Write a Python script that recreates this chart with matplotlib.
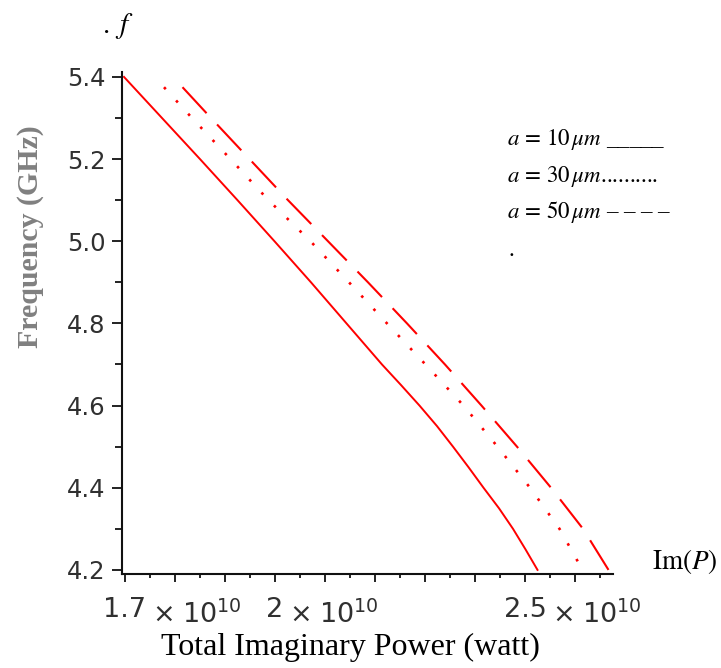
import matplotlib
matplotlib.use("Agg")
import matplotlib.pyplot as plt

plt.rcParams['mathtext.fontset'] = 'stix'
plt.rcParams['font.family'] = ['Liberation Serif', 'DejaVu Serif']

# Total imaginary power in units of 1e10 W versus resonance frequency (GHz)
freq_a10 = [5.40, 5.30, 5.20, 5.10, 5.00, 4.90, 4.80, 4.70, 4.65, 4.60, 4.55, 4.50,
            4.45, 4.40, 4.35, 4.30, 4.25, 4.20]
power_a10 = [1.698, 1.774, 1.850, 1.925, 1.999, 2.072, 2.143, 2.214, 2.252, 2.289,
             2.324, 2.356, 2.387, 2.417, 2.448, 2.476, 2.501, 2.525]

freq_a30 = [5.375, 5.30, 5.20, 5.10, 5.00, 4.90, 4.80, 4.70, 4.60, 4.50, 4.40, 4.30, 4.20]
power_a30 = [1.778, 1.834, 1.911, 1.987, 2.071, 2.148, 2.224, 2.301, 2.377, 2.445, 2.510,
             2.569, 2.615]

freq_a50 = [5.375, 5.30, 5.20, 5.10, 5.00, 4.90, 4.80, 4.70, 4.60, 4.50, 4.40, 4.30, 4.20]
power_a50 = [1.815, 1.872, 1.949, 2.026, 2.106, 2.186, 2.264, 2.340, 2.413, 2.484, 2.552,
             2.616, 2.667]

y_major = [4.2, 4.4, 4.6, 4.8, 5.0, 5.2, 5.4]
y_minor = [4.3, 4.5, 4.7, 4.9, 5.1, 5.3]
x_major = [1.7, 1.8, 1.9, 2.0, 2.1, 2.2, 2.3, 2.4, 2.5, 2.6]
x_minor = [1.75, 1.85, 1.95, 2.05, 2.15, 2.25, 2.35, 2.45, 2.55, 2.65]
x_labelled = [1.7, 2.0, 2.5]
x_mantissa = ["1.7", "2", "2.5"]

W, H = 721, 668
fig = plt.figure(figsize=(W / 100, H / 100), dpi=100)
ax = fig.add_axes([122 / W, (H - 574) / H, 491 / W, 502 / H])

red = '#ff0000'
ax.plot(power_a10, freq_a10, color=red, lw=1.4, solid_joinstyle='round')
ax.plot(power_a30, freq_a30, color=red, lw=1.9, linestyle=(0, (1.0, 5.8)))
ax.plot(power_a50, freq_a50, color=red, lw=1.5, linestyle=(0, (17.0, 7.4)))

ax.set_xlim(1.694, 2.676)
ax.set_ylim(4.19, 5.412)

for s in ('top', 'right'):
    ax.spines[s].set_visible(False)
for s in ('left', 'bottom'):
    ax.spines[s].set_linewidth(1.5)
    ax.spines[s].set_color('#111111')

ax.set_yticks(y_major)
ax.set_yticklabels([f"{v:.1f}" for v in y_major], fontfamily='DejaVu Sans',
                   fontsize=17.5, color='#303030')
ax.set_yticks(y_minor, minor=True)
ax.set_xticks(x_major)
ax.set_xticklabels([])
ax.set_xticks(x_minor, minor=True)
ax.tick_params(axis='y', which='major', length=7, width=1.3, pad=5, color='#111111')
ax.tick_params(axis='y', which='minor', length=5, width=1.3, color='#111111')
ax.tick_params(axis='x', which='major', length=6, width=1.3, color='#111111')
ax.tick_params(axis='x', which='minor', length=3, width=1.3, color='#111111')

# x tick labels: mantissa centred on the tick, exponent part trailing
xtr = ax.get_xaxis_transform()
for xv, m in zip(x_labelled, x_mantissa):
    t = ax.text(xv, -0.085, m, transform=xtr, ha='center', va='baseline',
                fontfamily='DejaVu Sans', fontsize=19.5, color='#303030')
    ax.annotate(r"$\times\;10^{10}$", xy=(1, 0), xycoords=t, xytext=(4, 0),
                textcoords='offset points', ha='left', va='baseline',
                fontfamily='DejaVu Sans', fontsize=19.5, color='#303030',
                math_fontfamily='dejavusans')

fig.text(350 / W, 1 - 647 / H, "Total Imaginary Power (watt)", ha='center', va='center',
         fontsize=23, color='black')
fig.text(31 / W, 1 - 237 / H, "Frequency (GHz)", rotation=90, ha='center', va='center',
         fontsize=21.5, fontweight='bold', color='#808080')

fig.text(652 / W, 1 - 561 / H, r"$\mathrm{Im}(P)$", ha='left', va='center',
         fontsize=19.5, color='black')
fig.text(102 / W, 1 - 26 / H, r"$.\;f$", ha='left', va='center',
         fontsize=21, color='black')

leg_x = 507 / W
leg_fs = 16.5
fig.text(leg_x, 1 - 139 / H, r"$a\,=\,10\,\mu m$" + " _____", ha='left', va='center',
         fontsize=leg_fs, color='black')
fig.text(leg_x, 1 - 176 / H, r"$a\,=\,30\,\mu m$" + "..........", ha='left', va='center',
         fontsize=leg_fs, color='black')
fig.text(leg_x, 1 - 212 / H, r"$a\,=\,50\,\mu m$" + " \u2013 \u2013 \u2013 \u2013",
         ha='left', va='center', fontsize=leg_fs, color='black')
fig.text(leg_x + 2 / W, 1 - 250 / H, ".", ha='left', va='center', fontsize=leg_fs,
         color='black')

fig.savefig("out.png", dpi=100)
